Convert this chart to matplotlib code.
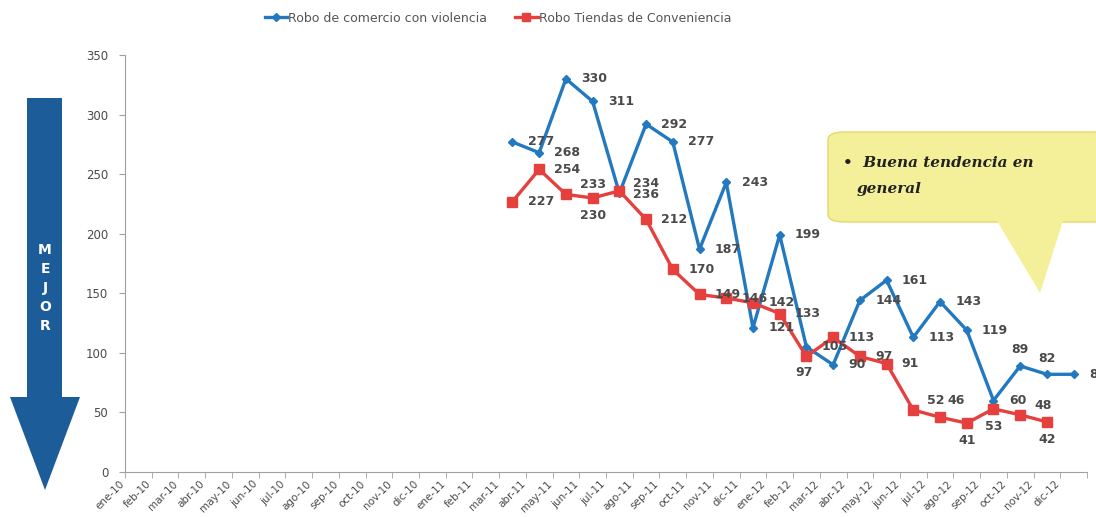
import matplotlib.pyplot as plt
import matplotlib.transforms as mtransforms
import numpy as np
from matplotlib.patches import FancyBboxPatch, Polygon

W, H = 1096, 517

months = ["ene", "feb", "mar", "abr", "may", "jun", "jul", "ago", "sep", "oct", "nov", "dic"]
categories = [f"{m}-{y}" for y in ("10", "11", "12") for m in months]

# series start at mar-11
start_idx = 14
robo_comercio = [277, 268, 330, 311, 234, 292, 277, 187, 243, 121, 199,
                 105, 90, 144, 161, 113, 143, 119, 60, 89, 82, 82]
robo_tiendas = [227, 254, 233, 230, 236, 212, 170, 149, 146, 142, 133,
                97, 113, 97, 91, 52, 46, 41, 53, 48, 42]

label_comercio = "Robo de comercio con violencia"
label_tiendas = "Robo Tiendas de Conveniencia"

# where each data label sits relative to its point
pos_comercio = ["r"] * 4 + ["ru"] + ["r"] * 14 + ["a", "a", "r"]
pos_tiendas = ["r", "r", "ru", "b", "rd", "r", "r", "r", "r", "r", "r",
               "bl", "r", "r", "r", "ru", "ar", "b", "b", "ru", "b"]

BLUE = "#2279c0"
RED = "#e5403d"
TXT = "#4a4a4a"


def fx(px):
    return px / W


def fy(py):
    return 1 - py / H


fig = plt.figure(figsize=(W / 100, H / 100), dpi=100)
ax = fig.add_axes([fx(125), fy(472), fx(1087 - 125), (472 - 55) / H])

x_all = np.arange(len(categories))
xc = x_all[start_idx:start_idx + len(robo_comercio)]
xt = x_all[start_idx:start_idx + len(robo_tiendas)]

ax.plot(xc, robo_comercio, color=BLUE, lw=2.4, marker="D", ms=4.5,
        label=label_comercio, zorder=3)
ax.plot(xt, robo_tiendas, color=RED, lw=2.4, marker="s", ms=7,
        label=label_tiendas, zorder=3)

offsets = {"r": ((11, 0), "left", "center"),
           "ru": ((10, 7), "left", "center"),
           "rd": ((10, -3), "left", "center"),
           "a": ((0, 7), "center", "bottom"),
           "ar": ((5, 7), "left", "bottom"),
           "b": ((0, -8), "center", "top"),
           "bl": ((-2, -7), "center", "top")}


def add_labels(xs, ys, pos):
    for x, y, p in zip(xs, ys, pos):
        off, ha, va = offsets[p]
        ax.annotate(str(y), (x, y), xytext=off, textcoords="offset points",
                    ha=ha, va=va, fontsize=9, fontweight="bold", color=TXT,
                    annotation_clip=False, zorder=4)


add_labels(xc, robo_comercio, pos_comercio)
add_labels(xt, robo_tiendas, pos_tiendas)

ax.set_xlim(-0.5, len(categories) - 0.5)
ax.set_ylim(0, 350)
ax.set_yticks(np.arange(0, 351, 50))
ax.set_xticks(x_all)
ax.set_xticklabels(categories, rotation=45, ha="right", fontsize=7.5,
                   color=TXT)
ax.set_xticks(np.arange(-0.5, len(categories), 1), minor=True)
ax.tick_params(axis="x", which="major", length=0, pad=5)
ax.tick_params(axis="x", which="minor", length=4, color="#a0a0a0")
ax.tick_params(axis="y", length=4, color="#a0a0a0", labelsize=8.5,
               labelcolor=TXT, pad=8)
shift = mtransforms.ScaledTranslation(-12 / 100, 0, fig.dpi_scale_trans)
for lbl in ax.get_xticklabels():
    lbl.set_transform(lbl.get_transform() + shift)
for s in ("top", "right"):
    ax.spines[s].set_visible(False)
for s in ("left", "bottom"):
    ax.spines[s].set_color("#a0a0a0")

fig.legend(loc="center", bbox_to_anchor=(fx(498), fy(18)), ncol=2,
           frameon=False, fontsize=9, labelcolor="#555555",
           handlelength=1.8, handletextpad=0.1, columnspacing=2.2,
           markerscale=0.8)

# "MEJOR" arrow
arrow = [(27, 98), (62, 98), (62, 397), (80, 397), (45, 490),
         (10, 397), (27, 397)]
fig.add_artist(Polygon([(fx(a), fy(b)) for a, b in arrow], closed=True,
                       transform=fig.transFigure, facecolor="#1c5c98",
                       edgecolor="none"))
for i, ch in enumerate("MEJOR"):
    fig.text(fx(45), fy(250 + i * 19), ch, color="white", fontsize=10,
             fontweight="bold", ha="center", va="center")

# callout box
YEL = "#f4f09a"
box = FancyBboxPatch((fx(828), fy(222)), fx(1110 - 828), (222 - 132) / H,
                     boxstyle="round,pad=0,rounding_size=0.015",
                     transform=fig.transFigure, facecolor=YEL,
                     edgecolor="#e3d96a", lw=1, zorder=5)
fig.add_artist(box)
tail = [(997, 221), (1063, 221), (1040, 293)]
fig.add_artist(Polygon([(fx(a), fy(b)) for a, b in tail], closed=True,
                       transform=fig.transFigure, facecolor=YEL,
                       edgecolor="none", zorder=5))
fig.text(fx(843), fy(163), "\u2022  Buena tendencia en", fontsize=11,
         family="DejaVu Serif", style="italic", fontweight="bold",
         color="#222222", va="center", zorder=6)
fig.text(fx(857), fy(189), "general", fontsize=11, family="DejaVu Serif",
         style="italic", fontweight="bold", color="#222222", va="center",
         zorder=6)

fig.savefig("out.png", dpi=100)
